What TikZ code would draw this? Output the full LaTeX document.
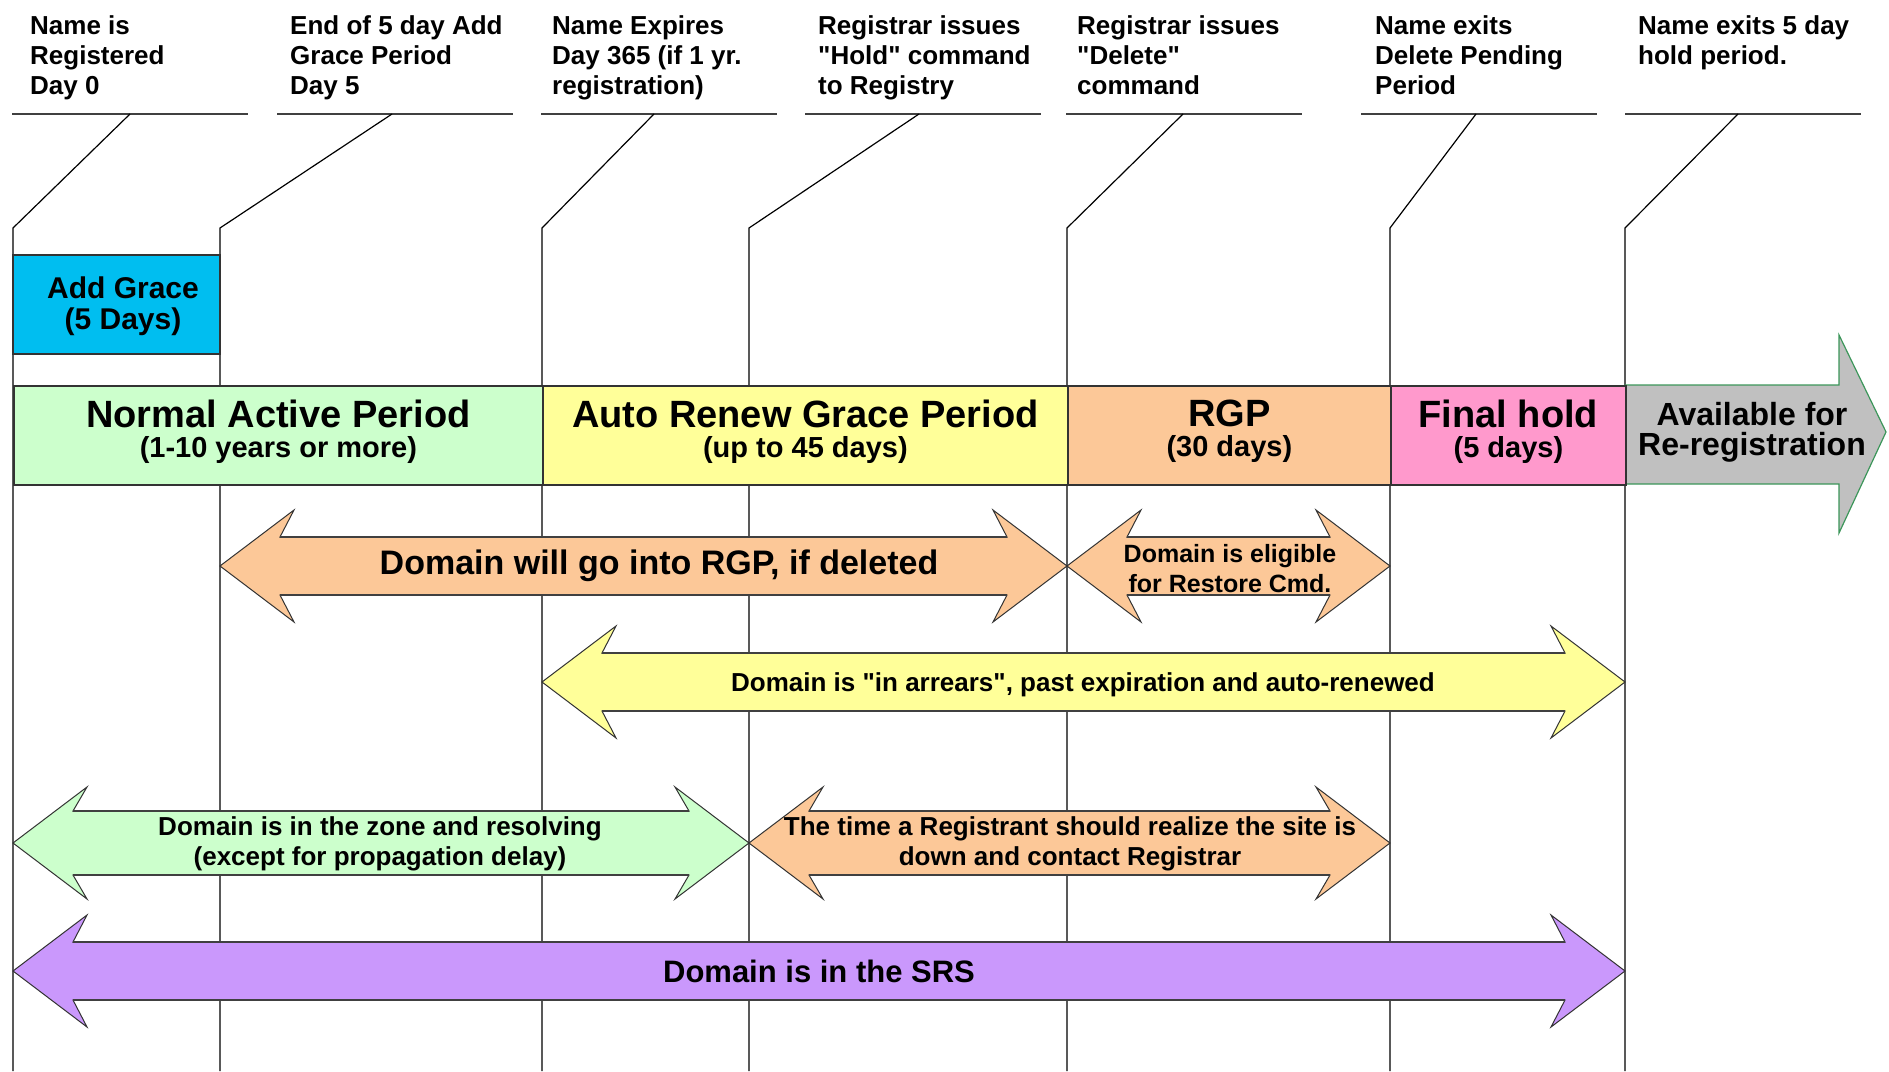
\documentclass[tikz,border=0pt]{standalone}
\usepackage{fontspec}
\setmainfont{Liberation Sans}[Ligatures=TeXOff]
\usepackage{tikz}

\definecolor{agcol}{RGB}{0,190,240}
\definecolor{activecol}{RGB}{204,255,204}
\definecolor{renewcol}{RGB}{255,255,153}
\definecolor{rgpcol}{RGB}{252,200,152}
\definecolor{holdcol}{RGB}{255,153,204}
\definecolor{availcol}{RGB}{192,192,192}
\definecolor{availedge}{RGB}{60,150,90}
\definecolor{srscol}{RGB}{202,152,252}

\begin{document}
\begin{tikzpicture}[x=1pt, y=-1pt,
  head/.style = {anchor=north west, align=left, inner sep=0, font=\bfseries\fontsize{26}{30}\selectfont},
  band/.style = {draw=black!80, line width=1.8pt, anchor=north west, minimum height=99, inner sep=0, align=center, font=\bfseries\fontsize{38}{30}\selectfont},
  dbl/.style = {draw=black!80, line width=1pt, line join=miter},
  lbl/.style = {align=center, inner sep=0, font=\bfseries\fontsize{26}{30}\selectfont}]
  \useasboundingbox (0,0) rectangle (1889,1071);

  \foreach \i/\x/\u/\t in {1/13/12/130, 2/220/277/392, 3/542/541/654, 4/749/805/919,
                           5/1067/1066/1183, 6/1390/1361/1476, 7/1625/1625/1738}{
    \coordinate (m\i) at (\x,228);
    \coordinate (t\i) at (\t,114);
    \coordinate (b\i) at (\x,1071);
    \draw[black!75, line width=2.2pt] (\u,114) -- +(236,0);
    \draw[line width=1.2pt] (t\i) -- (m\i) -- (b\i);
  }

  \node[head] (h1) at (30,15) {Name is\\Registered\\Day 0};
  \node[head] (h2) at (290,15) {End of 5 day Add\\Grace Period\\Day 5};
  \node[head] (h3) at (552,15) {Name Expires\\Day 365 (if 1 yr.\\registration)};
  \node[head] (h4) at (818,15) {Registrar issues\\"Hold" command\\to Registry};
  \node[head] (h5) at (1077,15) {Registrar issues\\"Delete"\\command};
  \node[head] (h6) at (1375,15) {Name exits\\Delete Pending\\Period};
  \node[head] (h7) at (1638,15) {Name exits 5 day\\hold period.};

  \draw[draw=black!80, line width=1.8pt, fill=agcol] (13,255) rectangle (220,354);
  \node[align=center, inner sep=0, font=\bfseries\fontsize{30}{31}\selectfont] (ag) at (123,306) {Add Grace\\(5 Days)};

  \draw[fill=availcol, draw=availedge, line width=1.2pt] (1625,385) -- (1839,385) -- (1839,335) -- (1886,432)
    -- (1839,533) -- (1839,484) -- (1625,484) -- cycle;
  \node[align=center, inner sep=0, font=\bfseries\fontsize{32}{30}\selectfont] (avail) at (1752,432) {Available for\\Re-registration};

  \node[band, fill=activecol, minimum width=529] (nap) at (13,385) {Normal Active Period\\{\fontsize{29}{30}\selectfont (1-10 years or more)\rule[-14pt]{0pt}{14pt}}};
  \node[band, fill=renewcol, minimum width=525] (arg) at (542,385) {Auto Renew Grace Period\\{\fontsize{29}{30}\selectfont (up to 45 days)\rule[-14pt]{0pt}{14pt}}};
  \node[band, fill=rgpcol, minimum width=323] (rgp) at (1067,385) {RGP\\{\fontsize{29}{30}\selectfont (30 days)\rule[-14pt]{0pt}{14pt}}};
  \node[band, fill=holdcol, minimum width=235] (fh) at (1390,385) {Final hold\\{\fontsize{29}{30}\selectfont (5 days)\rule[-14pt]{0pt}{14pt}}};

  \foreach \a/\b/\y/\w/\col in {220/1067/566/29/rgpcol, 1067/1390/566/29/rgpcol, 542/1625/682/29/renewcol,
                                13/749/843/32/activecol, 749/1390/843/32/rgpcol, 13/1625/971/29/srscol}{
    \draw[dbl, fill=\col] (\a,\y) -- (\a+74,\y-56) -- (\a+60,\y-\w) -- (\b-60,\y-\w) -- (\b-74,\y-56) -- (\b,\y)
      -- (\b-74,\y+56) -- (\b-60,\y+\w) -- (\a+60,\y+\w) -- (\a+74,\y+56) -- cycle;
    \draw[black!75, line width=2.2pt] (\a+60,\y-\w) -- (\b-60,\y-\w) (\a+60,\y+\w) -- (\b-60,\y+\w);
  }

  \node[lbl, font=\bfseries\fontsize{34}{30}\selectfont] (del) at (659,566) {Domain will go into RGP, if deleted};
  \node[lbl, font=\bfseries\fontsize{25}{30}\selectfont] (rst) at (1230,569) {Domain is eligible\\for Restore Cmd.};
  \node[lbl] (arr) at (1083,685) {Domain is "in arrears", past expiration and auto-renewed};
  \node[lbl] (zone) at (380,844) {Domain is in the zone and resolving\\(except for propagation delay)};
  \node[lbl] (site) at (1070,844) {The time a Registrant should realize the site is\\down and contact Registrar};
  \node[lbl, font=\bfseries\fontsize{31}{30}\selectfont] (srs) at (819,971) {Domain is in the SRS};
\end{tikzpicture}
\end{document}
